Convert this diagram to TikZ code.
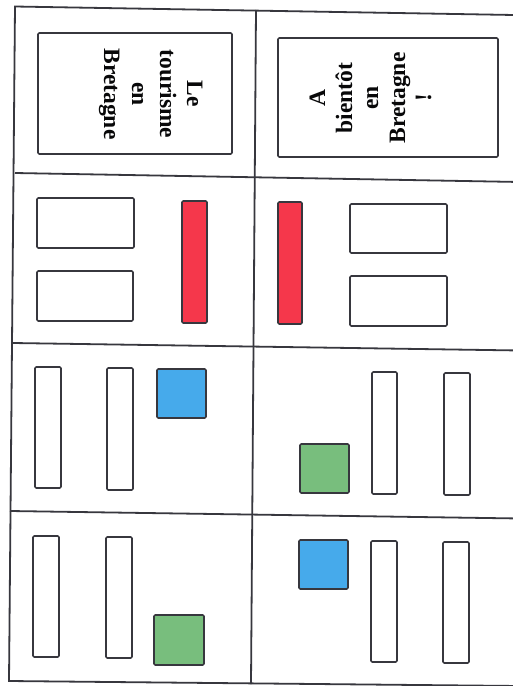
\documentclass[tikz,border=0pt]{standalone}
\usepackage{fontspec}
\setmainfont{Liberation Serif}
\definecolor{inkc}{RGB}{55,55,62}
\definecolor{redc}{RGB}{245,55,75}
\definecolor{bluec}{RGB}{70,170,235}
\definecolor{greenc}{RGB}{120,190,125}
\tikzset{
  gridline/.style={draw=inkc, line width=1.8pt},
  card/.style={draw=inkc, line width=1.6pt, rounded corners=1.2pt},
  redcard/.style={card, fill=redc},
  bluecard/.style={card, fill=bluec},
  greencard/.style={card, fill=greenc},
  lbl/.style={inner sep=0pt, anchor=base, text=black!85!inkc,
    font=\fontsize{23.5}{27.7}\selectfont\bfseries}
}
\begin{document}
\begin{tikzpicture}[x=1pt,y=-1pt]
\useasboundingbox[fill=white] (0,0) rectangle (513,686);
% grid
\draw[gridline] (520,15.1) -- (15,6.5) -- (9,681) -- (520,686);
\draw[gridline] (256,10) -- (251,684);
\draw[gridline] (15,173) -- (520,182);
\draw[gridline] (13,343) -- (520,350.5);
\draw[gridline] (10,511) -- (520,518.5);
% row 1: title boxes
\draw[card] (38,33) rectangle (232,154);
\draw[card] (278,38) rectangle (498,157);
\node[lbl, rotate=-90] (t1) at (187,94) {Le};
\node[lbl, rotate=-90] (t2) at (160,94) {tourisme};
\node[lbl, rotate=-90] (t3) at (132,94) {en};
\node[lbl, rotate=-90] (t4) at (104,94) {Bretagne};
\node[lbl, rotate=90] (u1) at (325,98) {A};
\node[lbl, rotate=90] (u2) at (352,98) {bientôt};
\node[lbl, rotate=90] (u3) at (378,98) {en};
\node[lbl, rotate=90] (u4) at (405,98) {Bretagne};
\node[lbl, rotate=90] (u5) at (431,98) {!};
% row 2
\draw[card] (37,198) rectangle (134,248);
\draw[card] (37,271) rectangle (133,321);
\draw[redcard] (182,201) rectangle (207,323);
\draw[redcard] (278,202) rectangle (302,324);
\draw[card] (350,204) rectangle (447,253);
\draw[card] (350,276) rectangle (447,326);
% row 3
\draw[card] (35,367) rectangle (61,488);
\draw[card] (107,368) rectangle (133,490);
\draw[bluecard] (157,369) rectangle (206,418);
\draw[greencard] (300,444) rectangle (349,493);
\draw[card] (372,372) rectangle (397,494);
\draw[card] (444,373) rectangle (470,495);
% row 4
\draw[card] (33,536) rectangle (59,657);
\draw[card] (106,537) rectangle (132,658);
\draw[greencard] (154,615) rectangle (204,665);
\draw[bluecard] (299,540) rectangle (348,589);
\draw[card] (371,541) rectangle (397,662);
\draw[card] (443,542) rectangle (469,663);
\end{tikzpicture}
\end{document}
